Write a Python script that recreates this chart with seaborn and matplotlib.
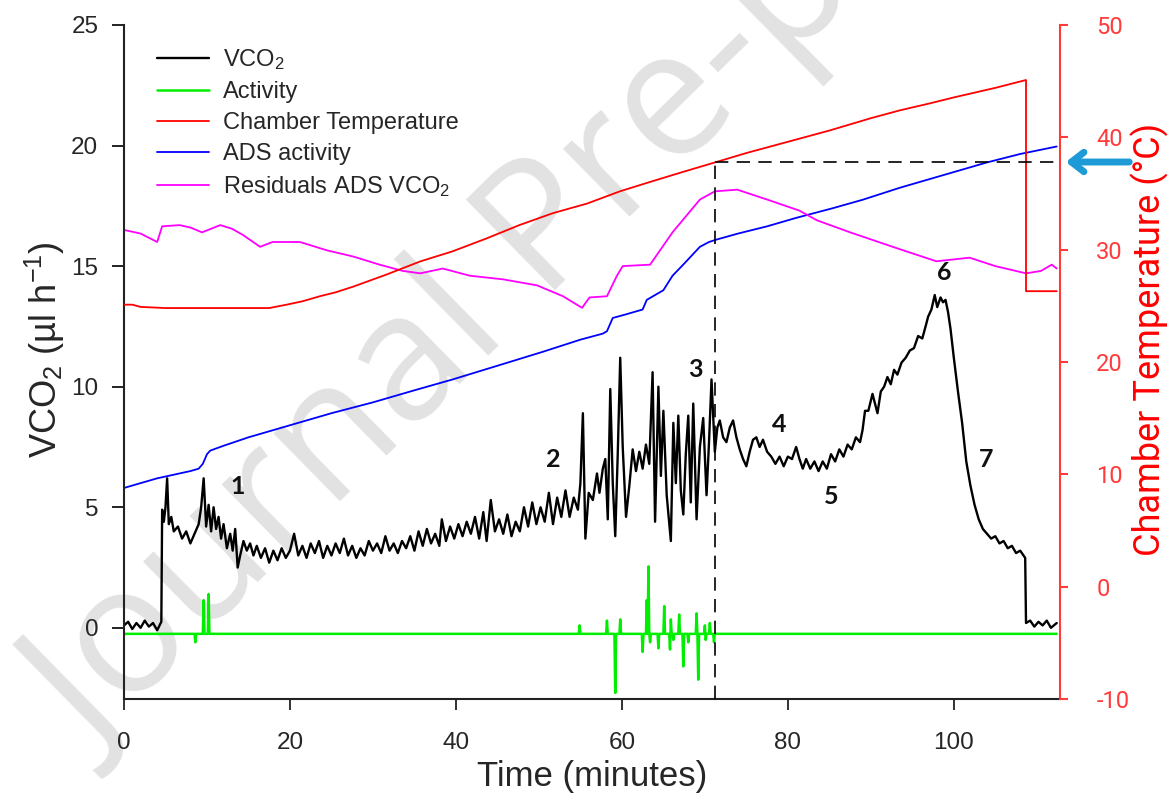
import numpy as np
import pandas as pd
import seaborn as sns
import matplotlib.pyplot as plt

# ---- data ----
# VCO2 trace (left axis, ul/h)
vco2_time = [0.0, 0.5, 1.0, 1.5, 2.0, 2.5, 3.0, 3.5, 4.0, 4.5,
             4.6, 4.8, 5.0, 5.2, 5.4, 5.7, 6.0, 6.5, 7.0, 7.5,
             8.0, 8.5, 9.0, 9.3, 9.6, 9.9, 10.2, 10.5, 10.8, 11.1,
             11.4, 11.7, 12.0, 12.4, 12.8, 13.1, 13.4, 13.7, 14.0, 14.4,
             14.8, 15.2, 15.6, 16.0, 16.5, 17.0, 17.5, 18.0, 18.5, 19.0,
             19.5, 20.0, 20.5, 21.0, 21.5, 22.0, 22.5, 23.0, 23.5, 24.0,
             24.5, 25.0, 25.5, 26.0, 26.5, 27.0, 27.5, 28.0, 28.5, 29.0,
             29.5, 30.0, 30.5, 31.0, 31.5, 32.0, 32.5, 33.0, 33.5, 34.0,
             34.5, 35.0, 35.5, 36.0, 36.5, 37.0, 37.5, 38.0, 38.3, 38.8,
             39.3, 39.8, 40.3, 40.8, 41.3, 41.8, 42.3, 42.8, 43.3, 43.7,
             44.2, 44.7, 45.2, 45.7, 46.2, 46.7, 47.2, 47.7, 48.2, 48.7,
             49.2, 49.7, 50.2, 50.7, 51.2, 51.7, 52.2, 52.7, 53.2, 53.7,
             54.2, 54.7, 55.0, 55.3, 55.6, 56.0, 56.5, 57.0, 57.3, 57.7,
             58.0, 58.3, 58.6, 58.9, 59.2, 59.5, 59.8, 60.1, 60.5, 60.9,
             61.3, 61.7, 62.1, 62.5, 62.9, 63.3, 63.7, 64.0, 64.4, 64.7,
             65.0, 65.4, 65.9, 66.2, 66.5, 66.8, 67.1, 67.4, 67.7, 68.0,
             68.3, 68.6, 69.0, 69.4, 69.8, 70.2, 70.5, 70.8, 71.2, 71.5,
             71.8, 72.2, 72.6, 73.0, 73.4, 73.8, 74.2, 74.6, 75.0, 75.4,
             75.8, 76.2, 76.6, 77.0, 77.5, 78.0, 78.5, 79.0, 79.5, 80.0,
             80.5, 81.0, 81.4, 81.8, 82.2, 82.7, 83.2, 83.7, 84.2, 84.7,
             85.2, 85.7, 86.2, 86.7, 87.2, 87.7, 88.2, 88.7, 89.0, 89.3,
             89.7, 90.2, 90.5, 90.8, 91.2, 91.6, 92.0, 92.4, 92.8, 93.2,
             93.7, 94.2, 94.7, 95.2, 95.7, 96.2, 96.6, 96.9, 97.3, 97.7,
             98.0, 98.4, 98.7, 99.0, 99.3, 99.6, 100.0, 100.5, 101.0, 101.5,
             102.0, 102.5, 103.0, 103.5, 104.0, 104.5, 105.0, 105.5, 106.0, 106.5,
             107.0, 107.5, 108.0, 108.6, 108.7, 109.2, 109.7, 110.2, 110.7, 111.2,
             111.7, 112.4]
vco2 = [0.1, 0.25, -0.05, 0.2, 0.0, 0.3, 0.05, 0.2, -0.1, 0.25,
        4.9, 4.4, 5.0, 6.2, 4.3, 4.6, 4.0, 4.2, 3.7, 4.0,
        3.5, 3.9, 4.3, 5.0, 6.2, 4.2, 5.1, 4.0, 5.0, 4.1,
        4.6, 3.7, 4.3, 3.3, 3.9, 3.2, 4.1, 2.5, 3.0, 3.6,
        3.2, 3.5, 3.0, 3.4, 2.9, 3.3, 2.7, 3.2, 2.8, 3.3,
        2.9, 3.2, 3.9, 3.0, 3.4, 2.9, 3.5, 3.1, 3.6, 2.9,
        3.4, 3.0, 3.5, 3.1, 3.7, 3.0, 3.4, 2.9, 3.3, 3.0,
        3.6, 3.2, 3.5, 3.1, 3.8, 3.2, 3.5, 3.1, 3.6, 3.3,
        3.8, 3.2, 4.0, 3.4, 4.1, 3.5, 3.9, 3.4, 4.5, 3.6,
        4.2, 3.7, 4.3, 3.8, 4.4, 3.9, 4.6, 3.7, 4.8, 3.6,
        5.3, 4.0, 4.5, 3.9, 4.7, 3.8, 4.4, 4.0, 5.0, 4.2,
        5.2, 4.3, 5.0, 4.4, 5.6, 4.3, 5.4, 4.6, 5.7, 4.6,
        5.4, 4.9, 6.0, 8.9, 3.7, 5.6, 5.3, 6.4, 5.6, 6.6,
        7.0, 4.5, 9.9, 6.0, 3.8, 7.2, 11.2, 7.5, 4.6, 5.9,
        7.4, 6.5, 7.3, 6.6, 7.6, 6.8, 10.6, 4.4, 10.0, 6.3,
        9.0, 5.5, 3.6, 8.5, 6.0, 8.8, 5.7, 4.7, 7.2, 8.8,
        5.2, 9.3, 4.5, 7.5, 8.7, 5.5, 7.7, 10.3, 7.3, 8.3,
        8.6, 7.9, 7.7, 8.3, 8.6, 7.9, 7.4, 7.0, 6.7, 7.3,
        7.8, 7.9, 7.5, 7.8, 7.3, 7.1, 6.8, 7.1, 6.7, 7.1,
        7.0, 7.5, 7.0, 6.6, 7.0, 6.6, 6.9, 6.5, 6.9, 6.6,
        7.2, 6.9, 7.4, 7.1, 7.6, 7.4, 7.9, 7.7, 8.2, 9.0,
        9.0, 9.7, 9.3, 8.9, 9.8, 10.0, 10.4, 10.1, 10.7, 10.5,
        11.0, 11.2, 11.5, 11.6, 12.1, 12.0, 12.5, 12.9, 13.2, 13.8,
        13.3, 13.7, 13.5, 13.6, 13.1, 12.4, 11.2, 9.8, 8.5, 6.9,
        5.9, 5.1, 4.5, 4.1, 3.9, 3.7, 3.8, 3.5, 3.6, 3.3,
        3.4, 3.1, 3.2, 2.9, 0.2, 0.3, 0.05, 0.25, 0.1, 0.3,
        0.0, 0.2]

# Activity trace (left axis)
act_time = [0.0,
            8.5, 8.6, 8.7, 9.5, 9.6, 9.7, 10.1, 10.2, 10.3,
            30.0,
            54.8, 54.9, 55.0, 58.1, 58.2, 58.3, 59.1, 59.2, 59.3,
            59.7, 59.8, 59.9, 62.4, 62.5, 62.6,
            62.9, 63.0, 63.1, 63.2, 63.3, 63.4, 63.5,
            64.3, 64.4, 64.5, 65.0, 65.1, 65.2,
            65.7, 65.8, 65.9, 66.0, 66.1, 66.2, 66.3,
            66.8, 66.9, 67.0, 67.3, 67.4, 67.5, 67.9, 68.0, 68.1,
            68.9, 69.0, 69.1, 69.2, 69.3,
            69.9, 70.0, 70.1, 70.2, 70.5, 70.6, 70.7, 71.0, 71.1, 71.2,
            90.0, 112.4]
activity = [-0.25,
            -0.25, -0.6, -0.25, -0.25, 1.15, -0.25, -0.25, 1.4, -0.25,
            -0.25,
            -0.25, 0.1, -0.25, -0.25, 0.3, -0.25, -0.25, -2.7, -0.25,
            -0.25, 0.35, -0.25, -0.25, -1.0, -0.25,
            -0.25, 1.15, -0.25, 2.55, -0.25, -0.6, -0.25,
            -0.25, -0.85, -0.25, -0.25, 0.9, -0.25,
            -0.25, -0.9, 0.35, -0.25, -0.25, -0.5, -0.25,
            -0.25, 0.55, -0.25, -0.25, -1.6, -0.25, -0.25, -0.6, -0.25,
            -0.25, 0.6, -0.25, -2.15, -0.25,
            -0.25, 0.1, -0.5, -0.25, -0.25, 0.2, -0.25, -0.25, -0.6, -0.25,
            -0.25, -0.25]

# Chamber temperature (right axis, deg C)
temp_time = [0, 1, 2, 5, 10, 15, 17.5, 19.6, 21.5, 23.6, 25.5, 27.6,
             31.7, 35.7, 39.6, 43.7, 47.7, 51.7, 55.8, 59.8, 63.5, 67.5,
             71.2, 75, 80, 85, 90, 93.5, 97, 100, 105, 108.7, 108.7, 112.4]
temperature = [25.1, 25.1, 24.9, 24.8, 24.8, 24.8, 24.8, 25.1, 25.4, 25.85, 26.2, 26.7,
               27.8, 28.95, 29.85, 31.0, 32.2, 33.25, 34.1, 35.2, 36.05, 36.95,
               37.76, 38.6, 39.6, 40.6, 41.7, 42.4, 43.0, 43.55, 44.4, 45.1, 26.3, 26.3]

# ADS activity (left axis)
ads_time = [0, 2, 4, 6, 8, 9.0, 9.5, 10.0, 10.4, 12, 15, 20, 25, 30, 35, 39.6,
            45.3, 50.5, 55, 57.7, 58.2, 58.9, 60.5, 62.5, 63, 63.5, 65, 66.1,
            67.5, 69.4, 70.5, 71.4, 74, 77.5, 81, 85.4, 89, 93.5, 97, 100,
            104, 108, 112.4]
ads = [5.8, 6.0, 6.2, 6.35, 6.5, 6.6, 6.8, 7.2, 7.35, 7.55, 7.9, 8.4, 8.9, 9.35, 9.85, 10.3,
       10.9, 11.45, 11.95, 12.2, 12.3, 12.85, 13.0, 13.2, 13.6, 13.7, 14.0, 14.6,
       15.1, 15.8, 16.0, 16.1, 16.35, 16.65, 17.0, 17.4, 17.75, 18.25, 18.6, 18.9,
       19.3, 19.65, 19.96]

# Residuals ADS VCO2 (left axis)
resid_time = [0, 2, 4.0, 4.6, 6.7, 8, 9.4, 11.6, 13, 14.3, 16.4, 17.9, 21.2,
              24.5, 27.6, 30.8, 33.6, 35.7, 38.4, 41.7, 45.7, 49.8, 52.9, 55.2,
              56.1, 58.2, 59.4, 60.1, 63.4, 66.1, 69.4, 71.2, 73.9, 77.5, 81.4,
              83.5, 87.5, 90.5, 93.5, 97.9, 101.9, 105, 108.7, 110.5, 111.8, 112.4]
residuals = [16.5, 16.35, 16.0, 16.65, 16.7, 16.6, 16.4, 16.7, 16.55, 16.3, 15.8, 16.0, 16.0,
             15.65, 15.4, 15.06, 14.8, 14.7, 14.9, 14.6, 14.45, 14.2, 13.75, 13.27,
             13.7, 13.75, 14.6, 15.0, 15.06, 16.4, 17.76, 18.1, 18.17, 17.76, 17.3,
             16.9, 16.4, 16.05, 15.7, 15.2, 15.35, 15.0, 14.7, 14.8, 15.06, 14.9]

# phase labels
phase_labels = ["1", "2", "3", "4", "5", "6", "7"]
phase_x = [13.7, 51.7, 68.8, 79.0, 85.2, 98.8, 103.9]
phase_y = [5.85, 6.97, 10.7, 8.42, 5.44, 14.73, 6.97]

# reference point (time, temperature) for the dashed guide lines
ref_time = 71.2
ref_temp = 37.76

# ---- style ----
sns.set_style("ticks")
plt.rcParams["font.family"] = ["Liberation Sans", "DejaVu Sans"]
plt.rcParams["mathtext.fontset"] = "custom"
plt.rcParams["mathtext.rm"] = "Liberation Sans"
plt.rcParams["mathtext.it"] = "Liberation Sans:italic"
plt.rcParams["mathtext.bf"] = "Liberation Sans:bold"
plt.rcParams["axes.unicode_minus"] = False

RED = "#ff0000"
AXRED = "#ff3b3b"

fig = plt.figure(figsize=(11.73, 7.95), dpi=100)
# watermark
fig.text(0.08, 0.048, "Journal Pre-proof", rotation=44.5, rotation_mode="anchor",
         ha="left", va="baseline", fontsize=128, color="#e2e2e2",
         family="Open Sans", zorder=-5)

ax = fig.add_axes([0.1057, 0.1208, 0.798, 0.8478])
ax.set_facecolor("none")
ax2 = ax.twinx()

sns.lineplot(x=ads_time, y=ads, ax=ax, color="#0000ff", lw=1.3,
             estimator=None, sort=False, label="ADS activity")
sns.lineplot(x=resid_time, y=residuals, ax=ax, color="#ff00ff", lw=1.3,
             estimator=None, sort=False, label="Residuals ADS VCO$_2$")
sns.lineplot(x=vco2_time, y=vco2, ax=ax, color="black", lw=1.7,
             estimator=None, sort=False, label="VCO$_2$")
sns.lineplot(x=act_time, y=activity, ax=ax, color="#00ee00", lw=1.8,
             estimator=None, sort=False, label="Activity")
sns.lineplot(x=temp_time, y=temperature, ax=ax2, color=RED, lw=1.3,
             estimator=None, sort=False, label="Chamber Temperature")

# dashed guides
ax2.plot([ref_time, ref_time], [-10, ref_temp], color="black", lw=1.2, ls=(0, (8, 5)))
ax2.plot([ref_time, 112.8], [ref_temp, ref_temp], color="black", lw=1.2, ls=(0, (8, 5)))

for lab, px, py in zip(phase_labels, phase_x, phase_y):
    ax.text(px, py, lab, fontsize=18, fontweight="bold", ha="center", va="center",
            family="Lato", color="#111111")

# axes setup
ax.set_xlim(0, 112.8)
ax.set_ylim(-2.95, 25)
ax2.set_ylim(-10, 50)
ax.set_xticks([0, 20, 40, 60, 80, 100])
ax.set_yticks([0, 5, 10, 15, 20, 25])
ax2.set_yticks([-10, 0, 10, 20, 30, 40, 50])

for s in ["top", "right"]:
    ax.spines[s].set_visible(False)
for s in ["top", "left", "bottom"]:
    ax2.spines[s].set_visible(False)
ax.spines["left"].set_linewidth(1.5)
ax.spines["bottom"].set_linewidth(1.5)
ax.spines["left"].set_color("#222222")
ax.spines["bottom"].set_color("#222222")
ax2.spines["right"].set_color(AXRED)
ax2.spines["right"].set_linewidth(1.5)

ax.tick_params(axis="y", length=8.5, width=1.4, pad=10, labelsize=17.5, color="#222222")
ax.tick_params(axis="x", length=8, width=1.3, pad=16, labelsize=17.5, color="#222222")
ax2.tick_params(axis="y", length=6, width=1.5, pad=20, labelsize=17, colors=AXRED)
for lbl in ax2.get_yticklabels():
    lbl.set_fontfamily("Roboto")

ax.set_xlabel("Time (minutes)", fontsize=25, labelpad=4)
ax.set_ylabel("VCO$_2$ (µl h$^{-1}$)", fontsize=26)
ax.yaxis.set_label_coords(-0.061, 0.518)
ax2.set_ylabel("Chamber Temperature (°C)", fontsize=26, color=RED, family="Roboto")
ax2.yaxis.set_label_coords(1.075, 0.533)

# legend
handles = {}
for a in (ax, ax2):
    h, l = a.get_legend_handles_labels()
    handles.update(dict(zip(l, h)))
    if a.get_legend() is not None:
        a.get_legend().remove()
order = ["VCO$_2$", "Activity", "Chamber Temperature", "ADS activity", "Residuals ADS VCO$_2$"]
ax2.legend([handles[k] for k in order], order, loc="upper left",
           bbox_to_anchor=(0.035, 0.967), frameon=False, fontsize=17,
           handlelength=2.2, handletextpad=0.6, labelspacing=0.38,
           borderaxespad=0, borderpad=0)

# blue arrow pointing at the reference temperature
arrow_y = 1 - 162 / 795
ax2.annotate("", xy=(1063 / 1173, arrow_y), xytext=(1132 / 1173, arrow_y),
             xycoords="figure fraction", textcoords="figure fraction",
             arrowprops=dict(arrowstyle="->,head_length=0.9,head_width=0.7",
                             color="#1e9bd7", lw=5, capstyle="round"),
             annotation_clip=False)

fig.savefig("out.png", dpi=100)
